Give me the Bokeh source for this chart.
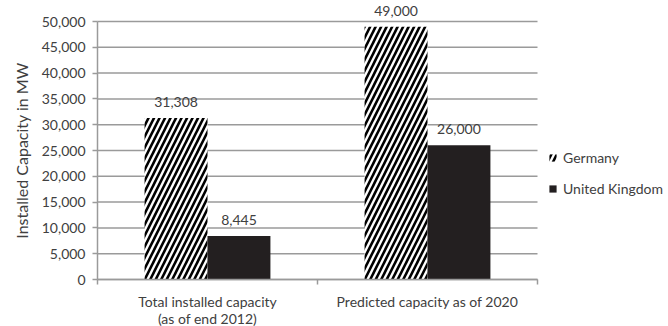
from bokeh.plotting import figure
from bokeh.models import (Range1d, FixedTicker, NumeralTickFormatter, Legend, LegendItem,
                          ColumnDataSource, LabelSet)
from bokeh.core.properties import value
from bokeh.embed import file_html
from bokeh.resources import INLINE

categories = ["Total installed capacity\n(as of end 2012)", "Predicted capacity as of 2020"]
series_names = ["Germany", "United Kingdom"]
germany = [31308, 49000]
uk = [8445, 26000]
y_ticks = [0, 5000, 10000, 15000, 20000, 25000, 30000, 35000, 40000, 45000, 50000]

FONT = "Lato"
TXT = "#404040"
GRID = "#9a9a9a"
BAR_W = 0.286

# pixel layout of the plotting area inside the 668x326 canvas
W, H = 668, 326
PL, PR, PT, PB = 97, 537, 21, 279
ncat = len(categories)
ymax = y_ticks[-1]
xu = (PR - PL) / ncat
yu = (PB - PT) / ymax
x_range = Range1d(-PL / xu, ncat + (W - PR) / xu)
y_range = Range1d(-(H - PB) / yu, ymax + PT / yu)

idx = list(range(ncat))
src_g = ColumnDataSource(dict(x=[i + 0.5 - BAR_W / 2 for i in idx], top=germany,
                              lab=[f"{v:,}" for v in germany]))
src_u = ColumnDataSource(dict(x=[i + 0.5 + BAR_W / 2 for i in idx], top=uk,
                              lab=[f"{v:,}" for v in uk]))

p = figure(width=W, height=H, output_backend="svg", toolbar_location=None,
           x_range=x_range, y_range=y_range,
           min_border_left=0, min_border_right=0, min_border_top=0, min_border_bottom=0)
p.outline_line_color = None
p.background_fill_color = "white"
p.border_fill_color = "white"
p.xgrid.visible = False
p.ygrid.visible = False

# gridlines
p.segment(x0=[0] * len(y_ticks), x1=[ncat] * len(y_ticks), y0=y_ticks, y1=y_ticks,
          line_color=GRID, line_width=1.5)

rg = p.vbar(x="x", top="top", width=BAR_W, source=src_g, fill_color="white", line_color=None,
            hatch_pattern="/", hatch_color="black", hatch_scale=11, hatch_weight=2.6)
ru = p.vbar(x="x", top="top", width=BAR_W, source=src_u, fill_color="#231f20", line_color=None)

for s in (src_g, src_u):
    p.add_layout(LabelSet(x="x", y="top", text="lab", source=s, text_align="center",
                          text_baseline="bottom", y_offset=11, text_font=value(FONT),
                          text_font_size="14px", text_color=TXT))

# axes
p.yaxis.fixed_location = 0
p.yaxis.bounds = (0, ymax)
p.yaxis.ticker = FixedTicker(ticks=y_ticks)
p.yaxis.formatter = NumeralTickFormatter(format="0,0")
p.yaxis.axis_label = "Installed Capacity in MW"
p.yaxis.axis_label_text_font = FONT
p.yaxis.axis_label_text_font_size = "16px"
p.yaxis.axis_label_text_font_style = "normal"
p.yaxis.axis_label_text_color = TXT
p.yaxis.axis_label_standoff = 8
p.yaxis.major_label_text_font = FONT
p.yaxis.major_label_text_font_size = "14px"
p.yaxis.major_label_text_color = TXT
p.yaxis.major_label_standoff = 7
p.yaxis.major_tick_out = 5
p.yaxis.major_tick_in = 0
p.yaxis.minor_tick_line_color = None
p.yaxis.major_tick_line_color = GRID
p.yaxis.major_tick_line_width = 1.5
p.yaxis.axis_line_color = GRID
p.yaxis.axis_line_width = 1.5

p.xaxis.fixed_location = 0
p.xaxis.bounds = (0, ncat)
p.xaxis.ticker = FixedTicker(ticks=[i + 0.5 for i in idx], minor_ticks=list(range(ncat + 1)))
p.xaxis.major_label_overrides = {i + 0.5: c for i, c in zip(idx, categories)}
p.xaxis.major_tick_line_color = None
p.xaxis.major_tick_out = 0
p.xaxis.major_tick_in = 0
p.xaxis.minor_tick_out = 5
p.xaxis.minor_tick_in = 0
p.xaxis.minor_tick_line_color = GRID
p.xaxis.minor_tick_line_width = 1.5
p.xaxis.axis_line_color = GRID
p.xaxis.axis_line_width = 1.5
p.xaxis.major_label_text_font = FONT
p.xaxis.major_label_text_font_size = "14px"
p.xaxis.major_label_text_color = TXT
p.xaxis.major_label_text_line_height = 1.0
p.xaxis.major_label_standoff = 8

legend = Legend(items=[LegendItem(label=series_names[0], renderers=[rg]),
                       LegendItem(label=series_names[1], renderers=[ru])],
                location=(548, H - 198), orientation="vertical",
                glyph_width=9, glyph_height=9, label_height=20, spacing=11,
                label_standoff=6, padding=0, margin=0,
                label_text_font=FONT, label_text_font_size="14px", label_text_color=TXT,
                border_line_color=None, background_fill_alpha=0)
p.add_layout(legend, "center")

open("out.html", "w").write(file_html(p, INLINE))
